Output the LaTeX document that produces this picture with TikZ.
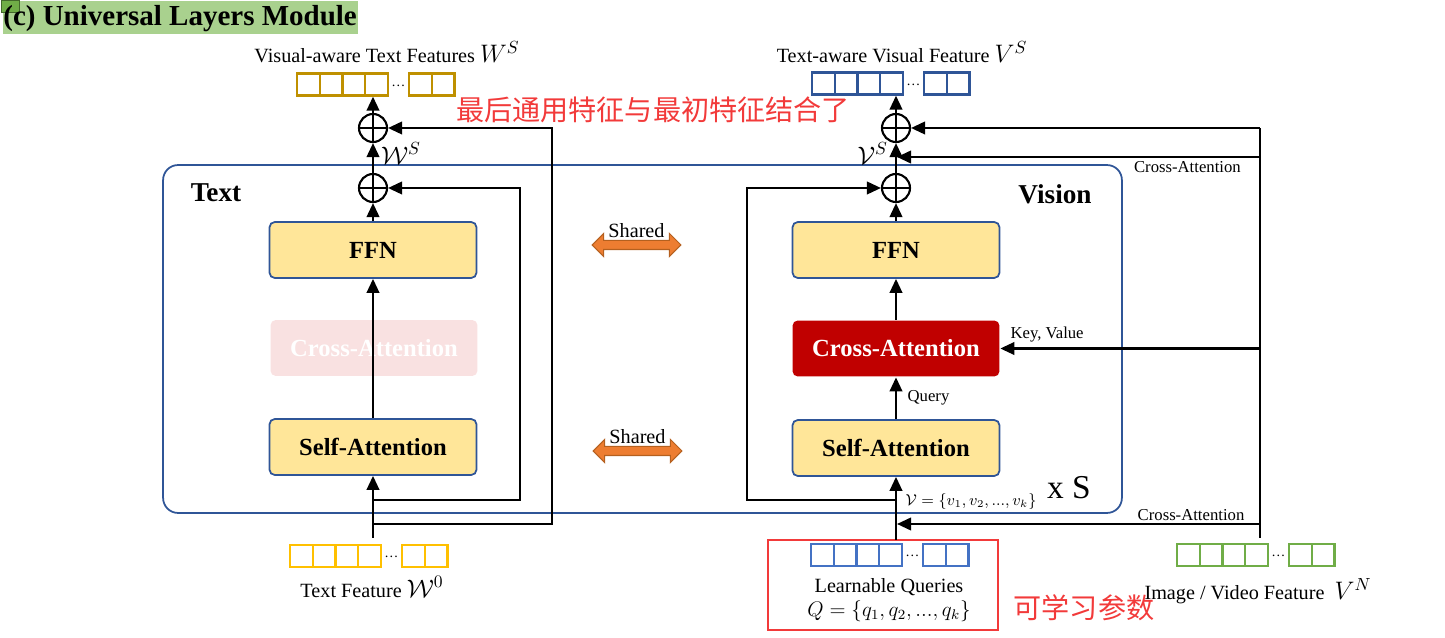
\documentclass[tikz,border=0pt]{standalone}
\usepackage{fontspec}
\setmainfont{Liberation Serif}
\newfontfamily\cjk{Noto Sans CJK SC}
\usetikzlibrary{shapes,arrows.meta,positioning,calc}
\definecolor{frame}{HTML}{2F5597}
\definecolor{boxfill}{HTML}{FFE699}
\definecolor{darkred}{HTML}{C00000}
\definecolor{fadepink}{HTML}{F9E1E1}
\definecolor{sharedor}{HTML}{ED7D31}
\definecolor{sharededge}{HTML}{B4601F}
\definecolor{titlegreen}{HTML}{A9D18E}
\definecolor{leafgreen}{HTML}{70AD47}
\definecolor{notered}{HTML}{F23A3A}
\definecolor{tokgold}{HTML}{BF9000}
\definecolor{tokyellow}{HTML}{FFC000}
\definecolor{tokblue}{HTML}{4472C4}
\definecolor{tokdblue}{HTML}{2F5597}
\definecolor{tokgreen}{HTML}{70AD47}

% row of feature tokens: name, left edge, colour
\newcommand{\tokenrow}[3]{%
  \foreach \i in {1,...,4}
    \node[tokbox, draw=#3] (#1-\i) at ($(#2)+(\i*22.75-11.4,0)$) {};
  \node[inner sep=0pt, font=\fontsize{8}{8}\selectfont] (#1-dots) at ($(#2)+(101.5,1)$) {\dots};
  \node[tokbox, draw=#3] (#1-5) at ($(#2)+(123.4,0)$) {};
  \node[tokbox, draw=#3] (#1-6) at ($(#2)+(146.1,0)$) {};
}
\newcommand{\bigmath}[1]{{\fontsize{14}{16}\selectfont$#1$}}

\begin{document}
\begin{tikzpicture}[x=0.02cm, y=-0.02cm,
  tokbox/.style={rectangle, minimum width=0.455cm, minimum height=0.44cm, inner sep=0pt, line width=1.3pt},
  block/.style={rectangle, draw=frame, fill=boxfill, line width=1pt, rounded corners=3pt, minimum width=4.14cm, minimum height=1.12cm, font=\fontsize{14}{16}\selectfont\bfseries},
  oplus/.style={circle, draw, line width=1.2pt, minimum size=0.56cm, inner sep=0pt,
    path picture={\draw[line width=1.2pt] (path picture bounding box.north) -- (path picture bounding box.south) (path picture bounding box.west) -- (path picture bounding box.east);}},
  arr/.style={-{Triangle[length=2.8mm, width=2.5mm]}, line width=1.3pt},
  wire/.style={line width=1.3pt},
  shared/.style={double arrow, fill=sharedor, draw=sharededge, line width=0.6pt, minimum height=1.78cm, inner sep=0.08cm, double arrow head extend=0.14cm},
  lbl/.style={inner sep=1pt, font=\fontsize{11.5}{13.5}\selectfont},
  smalllbl/.style={inner sep=1pt, font=\fontsize{9.5}{11}\selectfont},
  headlbl/.style={inner sep=0pt, font=\fontsize{15.5}{17}\selectfont\bfseries},
  cjknote/.style={inner sep=0pt, text=notered, font=\cjk\fontsize{16}{18}\selectfont}
]
  \useasboundingbox (0,0) rectangle (1445,638);

  % title
  \fill[titlegreen] (3,1) rectangle (358,34);
  \draw[fill=leafgreen, draw=leafgreen!60!black] (1,0) rectangle (19,12);
  \node[anchor=west, inner sep=0pt, font=\fontsize{16.5}{18}\selectfont\bfseries] (title) at (3,19) {(c) Universal Layers Module};

  \node[draw=frame, line width=1pt, rounded corners=0.3cm, minimum width=19.18cm, minimum height=6.96cm] (layers) at (642.5,339) {};
  \node[headlbl] (textlbl) at (216,193) {Text};
  \node[headlbl] (visionlbl) at (1055,194) {Vision};
  \node[inner sep=0pt, font=\fontsize{19}{21}\selectfont] (reps) at (1069,488) {x S};

  % text branch
  \node[block] (tsa) at (373,447) {Self-Attention};
  \node[block, draw=none, fill=fadepink, text=white] (tca) at (374,348) {Cross-Attention};
  \node[block] (tffn) at (373,250) {FFN};
  \node[oplus] (tadd) at (373,188) {};
  \node[oplus] (tmix) at (373,128) {};
  \tokenrow{tout}{297,84.5}{tokgold}
  \tokenrow{tin}{290,556}{tokyellow}
  \node[lbl] (toutlbl) at (387,52) {Visual-aware Text Features \bigmath{W^{S}}};
  \node[lbl] (tinlbl) at (372,587) {Text Feature \bigmath{\mathcal{W}^{0}}};

  % vision branch
  \node[block] (vsa) at (896,448) {Self-Attention};
  \node[block, draw=none, fill=darkred, text=white] (vca) at (896,348.5) {Cross-Attention};
  \node[block] (vffn) at (896,250) {FFN};
  \node[oplus] (vadd) at (896,188) {};
  \node[oplus] (vmix) at (896,128) {};
  \tokenrow{vout}{812,83.5}{tokdblue}
  \tokenrow{vq}{811,555}{tokblue}
  \tokenrow{img}{1177,555}{tokgreen}
  \node[lbl] (voutlbl) at (902,52) {Text-aware Visual Feature \bigmath{V^{S}}};
  \node[lbl, align=center] (vqlbl) at (889,600) {Learnable Queries\\$Q=\{q_1,q_2,...,q_k\}$};
  \node[lbl] (imglbl) at (1258,591) {Image / Video Feature \ \bigmath{V^{N}}};
  \node[draw=notered, line width=1.4pt, minimum width=4.6cm, minimum height=1.8cm] (qframe) at (883,585) {};
  \node[inner sep=0pt, font=\fontsize{9}{10}\selectfont] (vset) at (971,502) {$\mathcal{V}=\{v_1,v_2,...,v_k\}$};

  \node[shared] (share1) at (636.5,245) {};
  \node[lbl, above=0pt of share1] (share1lbl) {Shared};
  \node[shared] (share2) at (637.5,451) {};
  \node[lbl, above=0pt of share2] (share2lbl) {Shared};

  \node[cjknote] (note1) at (653,110) {最后通用特征与最初特征结合了};
  \node[cjknote] (note2) at (1084,608) {可学习参数};

  \coordinate (tfeed) at (373,538);
  \coordinate (vfeed) at (896,540);
  \coordinate (ifeed) at (1260,538);
  \coordinate (tloop) at (520,500);
  \coordinate (tskip) at (552,524);
  \coordinate (vloop) at (747,500);
  \coordinate (bus) at (1260,128);
  \coordinate (vjoin) at (897,157);
  \coordinate (vqjoin) at (897,524);

  \draw[arr] (tfeed) -- (tsa);
  \draw[arr] (tsa) -- (tffn);
  \draw[arr] (tffn) -- (tadd);
  \draw[arr] (tadd) -- node[lbl, right=3pt, pos=0.65] {\bigmath{\mathcal{W}^{S}}} (tmix);
  \draw[arr] (tmix) -- (tmix |- tout-4.south);
  \draw[arr] (tloop -| tsa) -- (tloop) |- (tadd);
  \draw[arr] (tskip -| tsa) -- (tskip) |- (tmix);

  \draw[arr] (vfeed) -- (vsa);
  \draw[arr] (vsa) -- node[smalllbl, right=5pt] {Query} (vca);
  \draw[arr] (vca) -- (vffn);
  \draw[arr] (vffn) -- (vadd);
  \draw[arr] (vadd) -- node[lbl, left=3pt, pos=0.65] {\bigmath{\mathcal{V}^{S}}} (vmix);
  \draw[arr] (vmix) -- (vmix |- vout-4.south);
  \draw[arr] (vloop -| vsa) -- (vloop) |- (vadd);

  \draw[wire] (ifeed) -- (bus);
  \draw[arr] (bus) -- (vmix);
  \draw[arr] (bus |- vjoin) -- node[smalllbl, below=1pt, pos=0.2] {Cross-Attention} (vjoin);
  \draw[arr] (bus |- vca.east) -- node[smalllbl, above=2pt, pos=0.82] {Key, Value} (vca.east);
  \draw[arr] (bus |- vqjoin) -- node[smalllbl, above=0pt, pos=0.19] {Cross-Attention} (vqjoin);
\end{tikzpicture}
\end{document}
